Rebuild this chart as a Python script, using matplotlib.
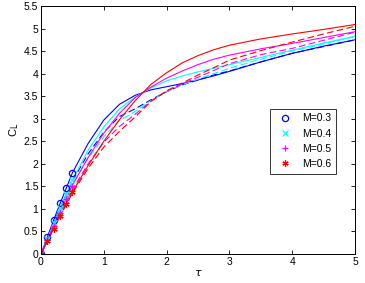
import numpy as np
import matplotlib
matplotlib.use('Agg')
import matplotlib.pyplot as plt

plt.rcParams['font.family'] = ['Liberation Sans', 'DejaVu Sans']

# time axis used for the solid / dashed curves
tau = [0, 0.25, 0.5, 0.75, 1.0, 1.25, 1.5, 1.75, 2.0, 2.25, 2.5, 2.75, 3.0, 3.5, 4.0, 4.5, 5.0]

# solid curves
cl_03 = [0, 0.93, 1.80, 2.45, 2.97, 3.32, 3.52, 3.64, 3.71, 3.78, 3.86, 3.95, 4.05, 4.26, 4.45, 4.61, 4.75]
cl_04 = [0, 0.83, 1.64, 2.30, 2.82, 3.22, 3.48, 3.68, 3.84, 3.95, 4.04, 4.12, 4.20, 4.36, 4.52, 4.68, 4.83]
cl_05 = [0, 0.77, 1.53, 2.14, 2.68, 3.12, 3.47, 3.70, 3.90, 4.06, 4.20, 4.32, 4.41, 4.55, 4.67, 4.80, 4.93]
cl_06 = [0, 0.70, 1.38, 1.96, 2.50, 2.98, 3.40, 3.76, 4.02, 4.24, 4.40, 4.53, 4.63, 4.77, 4.88, 4.98, 5.09]

# dashed curves
cld_03 = [0, 0.85, 1.62, 2.22, 2.70, 3.05, 3.22, 3.42, 3.60, 3.75, 3.86, 3.97, 4.06, 4.26, 4.45, 4.60, 4.75]
cld_04 = [0, 0.80, 1.52, 2.12, 2.60, 2.96, 3.16, 3.40, 3.60, 3.75, 3.88, 4.00, 4.12, 4.32, 4.50, 4.66, 4.82]
cld_05 = [0, 0.75, 1.43, 2.00, 2.48, 2.83, 3.10, 3.39, 3.61, 3.77, 3.92, 4.07, 4.22, 4.42, 4.56, 4.74, 4.92]
cld_06 = [0, 0.70, 1.35, 1.90, 2.37, 2.72, 3.04, 3.38, 3.62, 3.79, 3.97, 4.13, 4.30, 4.51, 4.70, 4.88, 5.05]

# early-time marker series
tau_m = [0, 0.1, 0.2, 0.3, 0.4, 0.5]
mk_03 = [0, 0.38, 0.75, 1.12, 1.47, 1.79]
mk_04 = [0, 0.34, 0.68, 1.01, 1.33, 1.63]
mk_05 = [0, 0.31, 0.62, 0.92, 1.22, 1.51]
mk_06 = [0, 0.28, 0.56, 0.84, 1.11, 1.37]

labels = ['M=0.3', 'M=0.4', 'M=0.5', 'M=0.6']
colors = ['#0000ff', '#00ffff', '#ff00ff', '#ff0000']
markers = ['o', 'x', '+', (6, 2, 0)]

solid = [cl_03, cl_04, cl_05, cl_06]
dashed = [cld_03, cld_04, cld_05, cld_06]
marks = [mk_03, mk_04, mk_05, mk_06]

fig = plt.figure(figsize=(3.65, 2.83), dpi=100)
ax = fig.add_axes([0.1123, 0.1025, 0.8603, 0.8763])

for i in range(4):
    ax.plot(tau, solid[i], '-', color=colors[i], lw=0.8)
    ax.plot(tau, dashed[i], '--', color=colors[i], lw=0.8, dashes=(6, 3))

for i in range(4):
    mfc = 'none' if markers[i] == 'o' else colors[i]
    ax.plot(tau_m, marks[i], linestyle='none', marker=markers[i], color=colors[i],
            mfc=mfc, ms=4.5, mew=0.9, label=labels[i])

ax.set_xlim(0, 5)
ax.set_ylim(0, 5.5)
ax.set_xticks([0, 1, 2, 3, 4, 5])
ax.set_yticks(np.arange(0, 5.6, 0.5))
ax.set_yticklabels(['0', '0.5', '1', '1.5', '2', '2.5', '3', '3.5', '4', '4.5', '5', '5.5'])
ax.tick_params(direction='in', top=True, right=True, labelsize=7.5, length=3, width=0.6, pad=2)
for s in ax.spines.values():
    s.set_linewidth(0.7)

ax.set_xlabel(r'$\tau$', fontsize=8, labelpad=1)
ax.set_ylabel(r'C$_\mathrm{L}$', fontsize=8, labelpad=2)

leg = ax.legend(loc='center right', bbox_to_anchor=(0.956, 0.455), fontsize=7.5,
                frameon=True, fancybox=False, edgecolor='black', handlelength=2.0,
                handletextpad=0.6, borderpad=0.45, labelspacing=0.5)
leg.get_frame().set_linewidth(0.7)

fig.savefig('out.png', dpi=100)
